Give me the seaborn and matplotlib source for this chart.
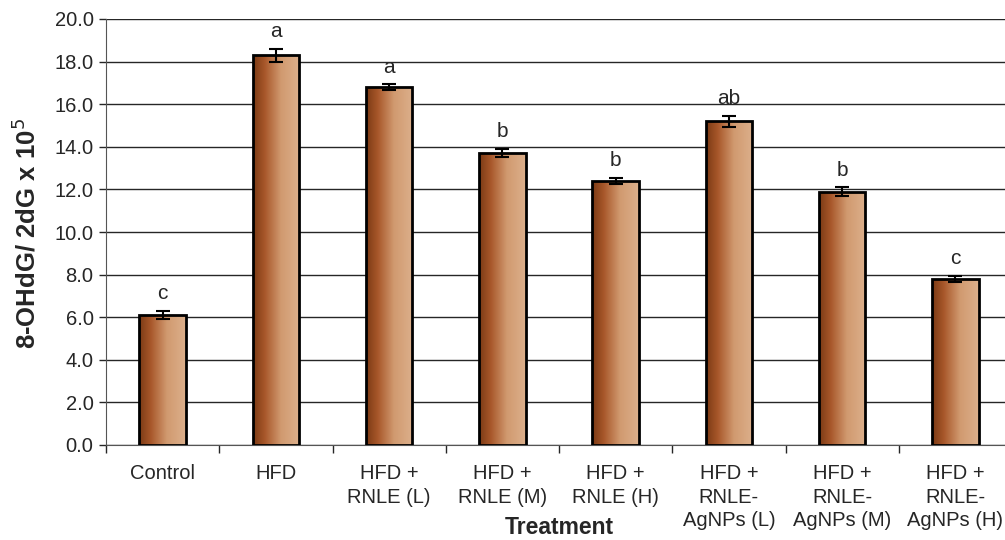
import numpy as np
import pandas as pd
import matplotlib
matplotlib.use('Agg')
from matplotlib import pyplot as plt
from matplotlib.colors import LinearSegmentedColormap
import seaborn as sns

# data
groups = ['Control', 'HFD', 'HFD +\nRNLE (L)', 'HFD +\nRNLE (M)', 'HFD +\nRNLE (H)',
          'HFD +\nRNLE-\nAgNPs (L)', 'HFD +\nRNLE-\nAgNPs (M)', 'HFD +\nRNLE-\nAgNPs (H)']
values = [6.1, 18.3, 16.8, 13.7, 12.4, 15.2, 11.9, 7.8]
errors = [0.2, 0.3, 0.15, 0.2, 0.15, 0.25, 0.2, 0.15]
letters = ['c', 'a', 'a', 'b', 'b', 'ab', 'b', 'c']

df = pd.DataFrame({'Group': groups, 'Value': values})

sns.set_style("white")
plt.rcParams['font.family'] = ['Liberation Sans', 'DejaVu Sans']

fig = plt.figure(figsize=(10.05, 5.4), dpi=100)
ax = fig.add_axes([106 / 1005, 1 - 445 / 540, (1012 - 106) / 1005, (445 - 19) / 540])

sns.barplot(data=df, x='Group', y='Value', ax=ax, width=0.41, color='white',
            edgecolor='black', linewidth=2, errorbar=None, zorder=3)

# brown horizontal gradient inside each bar
cmap = LinearSegmentedColormap.from_list('brown', [(0, '#7a3a14'), (0.25, '#a8572a'),
                                                   (0.6, '#d19a70'), (1, '#dcb08c')])
grad = np.linspace(0, 1, 256).reshape(1, -1)
for p in list(ax.patches):
    p.set_facecolor('none')
    x0, y0 = p.get_x(), p.get_y()
    w, h = p.get_width(), p.get_height()
    im = ax.imshow(grad, cmap=cmap, aspect='auto', extent=[x0, x0 + w, y0, y0 + h],
                   zorder=2.5, interpolation='bicubic')
    im.set_clip_path(p)

ax.errorbar(range(len(values)), values, yerr=errors, fmt='none', ecolor='black',
            elinewidth=1.5, capsize=5, capthick=1.5, zorder=4)

for i, (v, e, l) in enumerate(zip(values, errors, letters)):
    ax.text(i, v + e + 0.35, l, ha='center', va='bottom', fontsize=15)

ax.set_xlim(-0.5, len(values) - 0.5)
ax.set_ylim(0, 20)
ax.set_yticks(np.arange(0, 20.1, 2))
ax.set_yticklabels([f'{t:.1f}' for t in np.arange(0, 20.1, 2)], fontsize=14.5)
ax.yaxis.grid(True, color='black', linewidth=1, alpha=0.85)
ax.set_axisbelow(True)
ax.tick_params(axis='y', left=True, length=5, width=1, direction='out', pad=4)

ax.set_xticks(range(len(values)))
ax.set_xticklabels(groups, fontsize=14.5, linespacing=1.3)
ax.set_xticks(np.arange(-0.5, len(values), 1), minor=True)
ax.tick_params(axis='x', which='major', length=0, pad=14)
ax.tick_params(axis='x', which='minor', bottom=True, length=6, width=1, direction='out')

for s in ['top', 'right']:
    ax.spines[s].set_visible(False)
ax.spines['left'].set_color('#555555')
ax.spines['bottom'].set_color('#555555')

ax.set_xlabel('Treatment', fontsize=16.5, fontweight='bold', va='center')
ax.xaxis.set_label_coords(0.5, (445 - 527) / 426)
ax.set_ylabel('8-OHdG/ 2dG x 10$^5$', fontsize=18.5, fontweight='bold', va='center')
ax.yaxis.set_label_coords(-(106 - 26) / 906, (445 - 233) / 426)

fig.savefig('out.png', dpi=100)
